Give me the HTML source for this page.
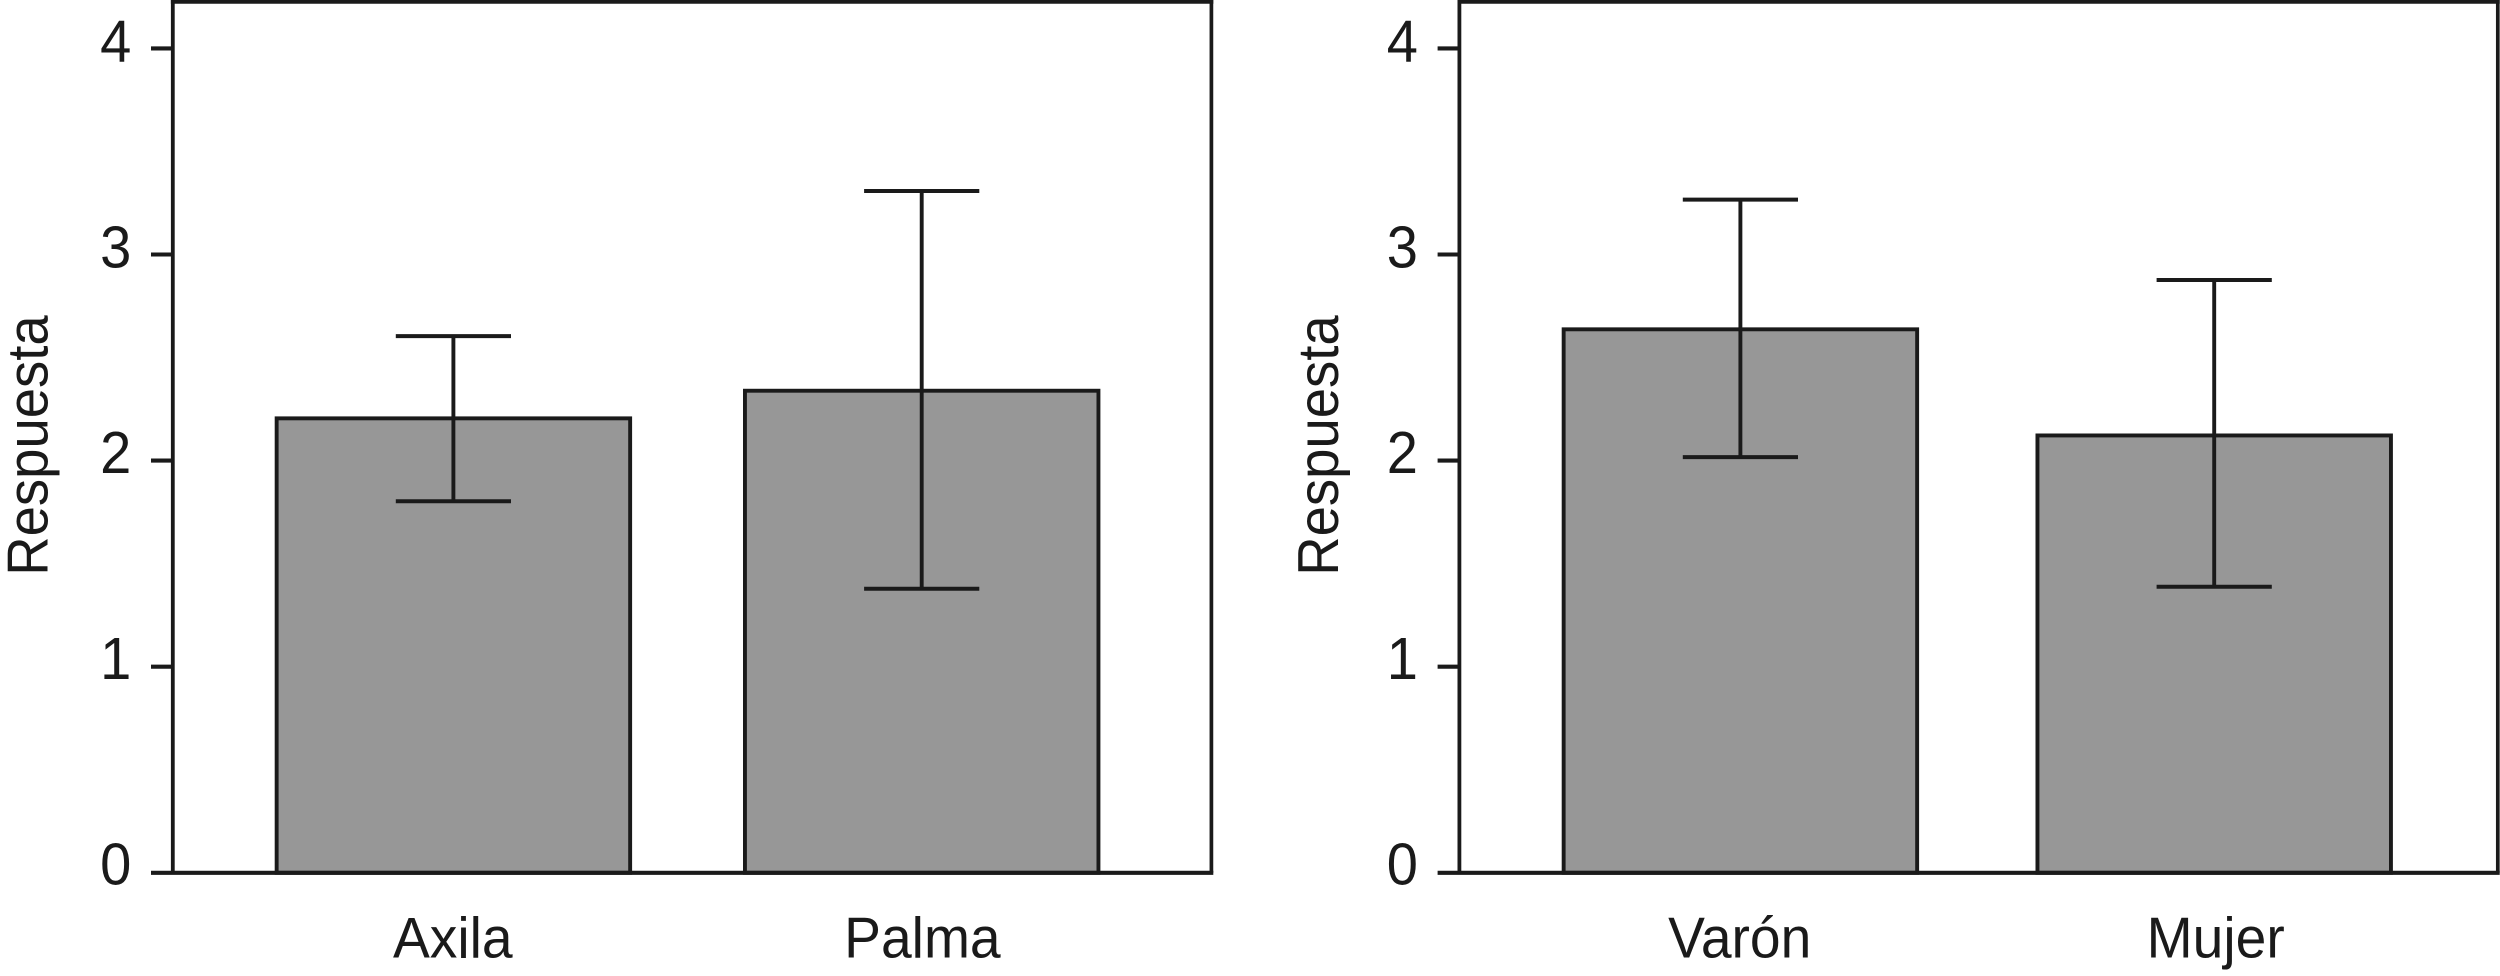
<!DOCTYPE html>
<html lang="es">
<head>
<meta charset="utf-8">
<title>Respuesta por zona y sexo</title>
<style>
  html, body { margin: 0; padding: 0; background: #fff; }
  body { width: 2500px; height: 976px; overflow: hidden; }
  svg { display: block; }
  text { font-family: "Liberation Sans", sans-serif; fill: #1a1a1a; font-size: 57.5px; }
</style>
</head>
<body>
<svg id="chart" xmlns="http://www.w3.org/2000/svg" width="2500" height="976" viewBox="0 0 2500 976"></svg>
<script>
// Data
const tickValues = [0, 1, 2, 3, 4];
const tickLabels = ['0', '1', '2', '3', '4'];
const yAxisTitle = 'Respuesta';

const zonaCategories = ['Axila', 'Palma'];
const zonaMeans = [2.205, 2.339];
const zonaErrorHigh = [2.604, 3.308];
const zonaErrorLow = [1.803, 1.378];

const sexoCategories = ['Varón', 'Mujer'];
const sexoMeans = [2.637, 2.122];
const sexoErrorHigh = [3.266, 2.876];
const sexoErrorLow = [2.017, 1.388];

// Layout
const INK = '#1a1a1a';
const BAR_FILL = '#979797';
const BASE_Y = 872.8;
const UNIT_Y = 206.1;
const BAR_W = 353.5;
const CAP_HALF = 57.6;
const svg = document.getElementById('chart');
const NS = 'http://www.w3.org/2000/svg';

function yScale(v) {
  return BASE_Y - v * UNIT_Y;
}

function make(tag, attrs, parent) {
  const el = document.createElementNS(NS, tag);
  for (const k in attrs) el.setAttribute(k, attrs[k]);
  parent.appendChild(el);
  return el;
}

function line(x1, y1, x2, y2, w, parent) {
  return make('line', { x1: x1, y1: y1, x2: x2, y2: y2, stroke: INK, 'stroke-width': w }, parent);
}

function drawPanel(panelName, axisX, rightX, titleX, firstCenter, step, firstLabel, labelStep, categories, means, errHigh, errLow) {
  const xScale = function (i) { return firstCenter + i * step; };

  const g = make('g', {}, svg);
  
  

  // Bars
  categories.forEach(function (cat, i) {
    const top = yScale(means[i]);
    const bar = make('rect', {
      x: xScale(i) - BAR_W / 2, y: top, width: BAR_W, height: BASE_Y - top,
      fill: BAR_FILL, stroke: INK, 'stroke-width': 3.9
    }, g);
    
    
  });

  // Error bars
  categories.forEach(function (cat, i) {
    const cx = xScale(i);
    const hi = yScale(errHigh[i]);
    const lo = yScale(errLow[i]);
    const eg = make('g', {}, g);
    
    
    line(cx, hi, cx, lo, 3.9, eg);
    line(cx - CAP_HALF, hi, cx + CAP_HALF, hi, 4, eg);
    line(cx - CAP_HALF, lo, cx + CAP_HALF, lo, 4, eg);
  });

  // Frame
  const frame = make('g', {}, g);
  
  
  line(axisX - 1.9, 1.9, rightX + 1.9, 1.9, 3.8, frame);
  line(rightX, 0, rightX, BASE_Y, 3.7, frame);
  line(axisX, 0, axisX, BASE_Y, 3.8, frame);

  // Baseline extends left to form the zero tick
  const baseLine = line(axisX - 21.8, BASE_Y, rightX + 1.9, BASE_Y, 4.1, g);
  
  

  // Y ticks and labels
  tickValues.forEach(function (v, i) {
    const y = yScale(v);
    if (v !== 0) {
      const tick = line(axisX - 21.8, y, axisX, y, 4.1, g);
      
      
    }
    const lab = make('text', {
      transform: 'translate(' + (axisX - 41.5) + ' ' + (y + 11.6 + 0.5 * v) + ') scale(0.95 1)',
      'text-anchor': 'end',
      style: 'font-size:59px'
    }, g);
    lab.textContent = tickLabels[i];
    
    
  });

  // Category labels
  categories.forEach(function (cat, i) {
    const lab = make('text', {
      transform: 'translate(' + (firstLabel + i * labelStep) + ' 957.6) scale(0.96 1)',
      'text-anchor': 'middle'
    }, g);
    lab.textContent = cat;
    
    
  });

  // Y axis title
  const title = make('text', {
    transform: 'translate(' + titleX + ' 445.5) rotate(-90) scale(0.9475 1)',
    'text-anchor': 'middle'
  }, g);
  title.textContent = yAxisTitle;
  
  
}

drawPanel('panel-zona', 172.8, 1211.4, 47.7, 453.4, 468.3, 452.8, 469.6, zonaCategories, zonaMeans, zonaErrorHigh, zonaErrorLow);
drawPanel('panel-sexo', 1459.4, 2497.8, 1338.2, 1740.4, 473.8, 1739.7, 476, sexoCategories, sexoMeans, sexoErrorHigh, sexoErrorLow);
</script>
</body>
</html>
